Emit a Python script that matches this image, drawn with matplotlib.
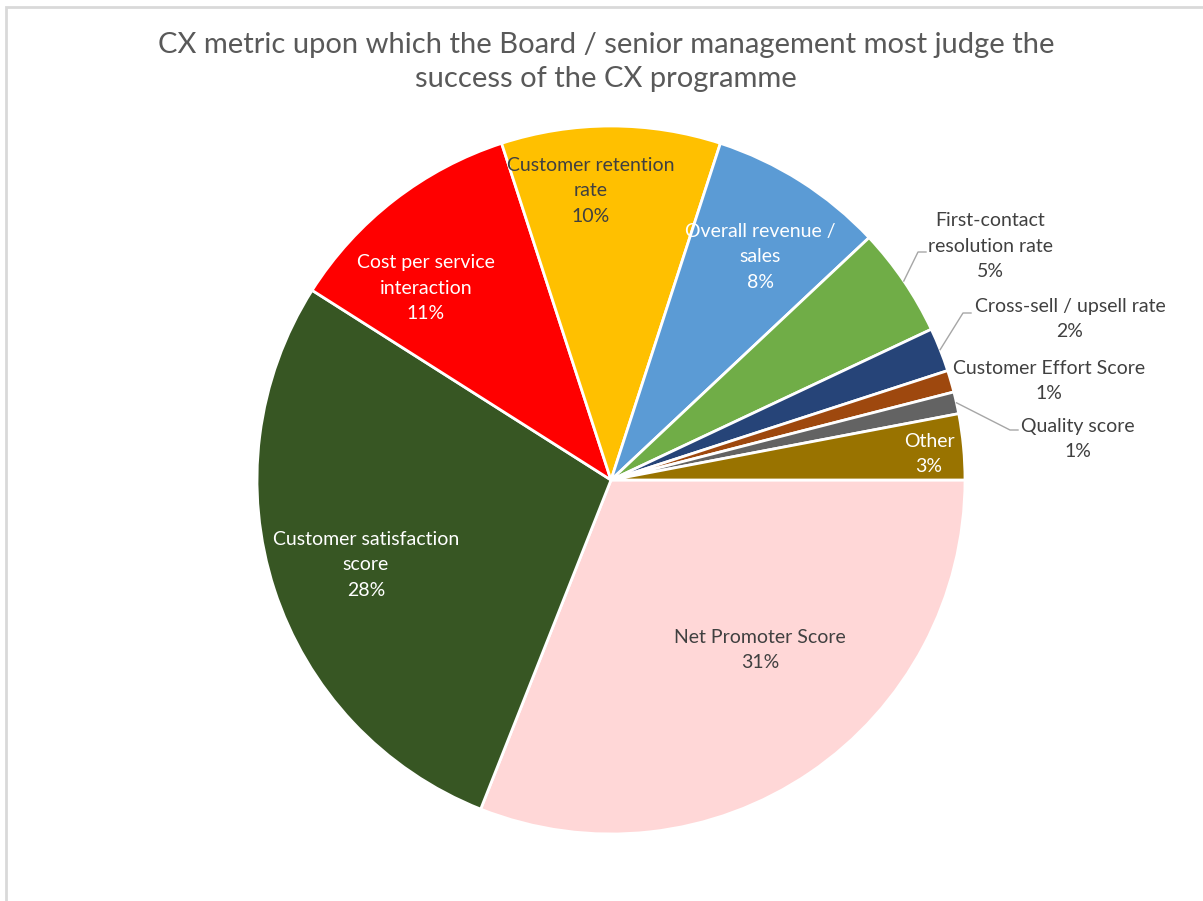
import numpy as np
import matplotlib.pyplot as plt
from matplotlib.patches import Rectangle

plt.rcParams['font.family'] = ['Lato', 'DejaVu Sans']

# Share of respondents per CX metric (%)
metrics = [
    'Net Promoter Score',
    'Customer satisfaction\nscore',
    'Cost per service\ninteraction',
    'Customer retention\nrate',
    'Overall revenue /\nsales',
    'First-contact\nresolution rate',
    'Cross-sell / upsell rate',
    'Customer Effort Score',
    'Quality score',
    'Other',
]
shares = [31, 28, 11, 10, 8, 5, 2, 1, 1, 3]
colors = ['#FFD7D7', '#375623', '#FF0000', '#FFC000', '#5B9BD5',
          '#70AD47', '#264478', '#9E480E', '#636363', '#997300']
label_colors = ['#404040', 'white', 'white', '#404040', 'white',
                '#404040', '#404040', '#404040', '#404040', 'white']

title = ('CX metric upon which the Board / senior management most judge the\n'
         'success of the CX programme')

W, H = 1203, 901
cx, cy, r = 611, H - 480, 354

# label centres (pixels from top-left) and elbow of leader line, if any
label_pos = [(760, 650), (366, 565), (426, 288), (591, 191), (760, 257),
             (990, 246), (1070, 319), (1049, 381), (1078, 439), (929, 454)]
elbows = {5: (918, 252), 6: (963, 313), 8: (1010, 430)}

fig = plt.figure(figsize=(W / 100, H / 100), dpi=100)
ax = fig.add_axes([0, 0, 1, 1])

wedges, _ = ax.pie(shares, colors=colors, startangle=0, counterclock=False,
                   center=(cx, cy), radius=r,
                   wedgeprops=dict(edgecolor='white', linewidth=2))
ax.set_xlim(0, W)
ax.set_ylim(0, H)
ax.set_aspect('equal')
ax.axis('off')

for i, (name, val) in enumerate(zip(metrics, shares)):
    x, y = label_pos[i]
    ax.text(x, H - y, f'{name}\n{val}%', ha='center', va='center',
            fontsize=14, color=label_colors[i], linespacing=1.6)
    if i in elbows:
        w = wedges[i]
        mid = np.deg2rad((w.theta1 + w.theta2) / 2)
        sx, sy = cx + r * np.cos(mid), cy + r * np.sin(mid)
        ex, ey = elbows[i]
        ax.plot([sx, ex, ex + 8], [sy, H - ey, H - ey],
                color='#A6A6A6', linewidth=1)

fig.text(606 / W, 1 - 62 / H, title, ha='center', va='center',
         fontsize=21, color='#595959', linespacing=1.42)

# chart area outline
fig.patches.append(Rectangle((5.5 / W, -0.1), 1.2, 1.1 - 6.5 / H,
                             transform=fig.transFigure, fill=False,
                             edgecolor='#D9D9D9', linewidth=2))

fig.savefig('out.png', dpi=100, facecolor='white')
